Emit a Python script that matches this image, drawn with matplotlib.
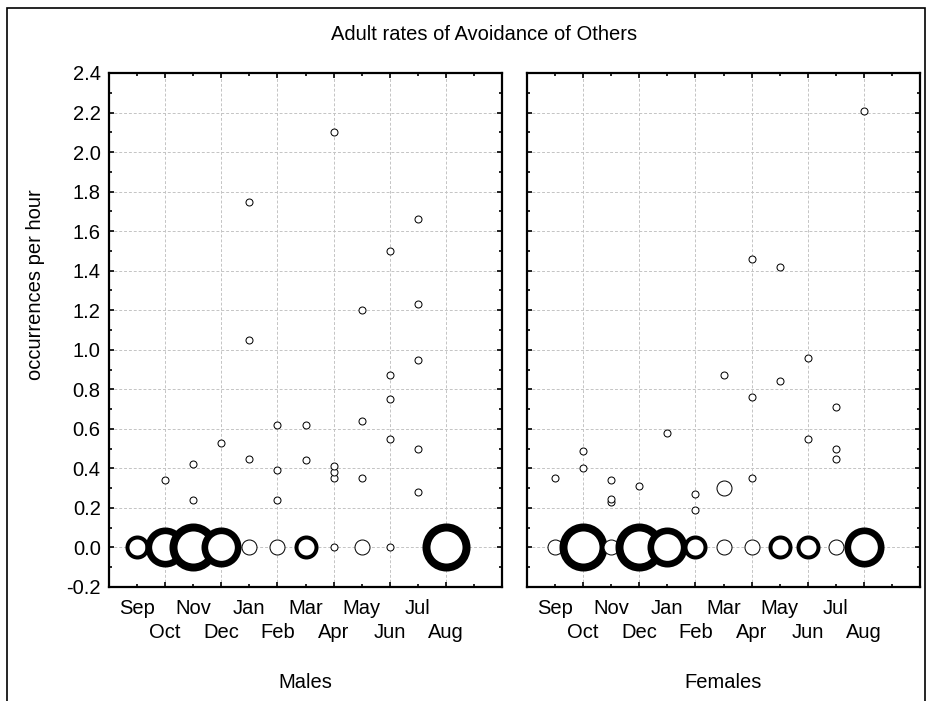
import matplotlib
matplotlib.use('Agg')
import matplotlib.pyplot as plt
from matplotlib.patches import Rectangle
from collections import Counter

plt.rcParams['font.family'] = ['Liberation Sans', 'DejaVu Sans']

months = ['Sep', 'Oct', 'Nov', 'Dec', 'Jan', 'Feb', 'Mar', 'Apr', 'May', 'Jun', 'Jul', 'Aug']

# non-zero rates, month number (Sep=1 .. Aug=12) and value
male_month = [2, 3, 3, 4, 5, 5, 5, 6, 6, 6, 7, 7, 8, 8, 8, 8, 9, 9, 9, 10, 10, 10, 10, 11, 11, 11, 11, 11]
male_rate = [0.34, 0.42, 0.24, 0.53, 1.75, 1.05, 0.45, 0.62, 0.39, 0.24, 0.62, 0.44, 2.10, 0.41, 0.38, 0.35,
             1.20, 0.64, 0.35, 1.50, 0.87, 0.75, 0.55, 1.66, 1.23, 0.95, 0.50, 0.28]
female_month = [1, 2, 2, 3, 3, 3, 4, 5, 6, 6, 7, 7, 7, 8, 8, 8, 9, 9, 10, 10, 11, 11, 11, 12]
female_rate = [0.35, 0.49, 0.40, 0.34, 0.245, 0.232, 0.31, 0.58, 0.27, 0.19, 0.87, 0.30, 0.30, 1.46, 0.76, 0.35,
               1.42, 0.84, 0.96, 0.55, 0.71, 0.50, 0.45, 2.21]

# number of adults with a zero rate in each month
male_zeros = [3, 5, 6, 5, 2, 2, 3, 1, 2, 1, 0, 6]
female_zeros = [2, 6, 2, 6, 5, 3, 2, 2, 3, 3, 2, 5]

PX = 0.72  # points per pixel at 100 dpi
FS = 14.5
W, H = 931, 701


def draw_panel(ax, month, rate, zeros, label):
    obs = list(zip(month, rate))
    for i, n in enumerate(zeros):
        obs += [(i + 1, 0.0)] * n
    counts = Counter(obs)
    for (m, v), n in sorted(counts.items()):
        outer = 8 * n
        lw = 1.0 if n <= 2 else 1.33 * n
        size = (outer - lw) * PX
        ax.scatter([m], [v], s=size ** 2, facecolors='white', edgecolors='black',
                   linewidths=lw * PX, zorder=3, clip_on=False)

    ax.set_xlim(0, 14)
    ax.set_ylim(-0.2, 2.4)
    # even months on the lower row (with grid), odd months on the upper row
    ax.set_xticks(range(2, 13, 2), labels=[months[i - 1] for i in range(2, 13, 2)])
    odd = list(range(1, 14, 2))
    ax.set_xticks(odd, labels=[months[i - 1] if i <= 12 else '' for i in odd], minor=True)
    ax.set_yticks([round(-0.2 + 0.2 * k, 1) for k in range(14)])
    ax.set_yticks([round(-0.1 + 0.2 * k, 1) for k in range(13)], minor=True)
    ax.yaxis.set_major_formatter(matplotlib.ticker.FormatStrFormatter('%.1f'))
    ax.grid(True, which='major', color='#c4c4c4', linestyle=(0, (3, 2)), linewidth=0.7)
    ax.set_axisbelow(True)
    ax.tick_params(which='both', direction='in', top=True, right=True, labelsize=FS,
                   width=1.2, pad=6)
    ax.tick_params(which='major', length=3.5)
    ax.tick_params(which='minor', length=2.5)
    ax.tick_params(axis='x', which='minor', pad=9)
    ax.tick_params(axis='x', which='major', pad=9 + 24 * PX)
    for s in ax.spines.values():
        s.set_linewidth(1.6)
    ax.text(0.5, -(682 - 587) / 514, label, transform=ax.transAxes, ha='center', va='center', fontsize=FS)


fig = plt.figure(figsize=(9.31, 7.01), dpi=100)
ax1 = fig.add_axes([109 / W, 1 - 587 / H, 393 / W, 514 / H])
ax2 = fig.add_axes([527 / W, 1 - 587 / H, 393 / W, 514 / H])

draw_panel(ax1, male_month, male_rate, male_zeros, 'Males')
draw_panel(ax2, female_month, female_rate, female_zeros, 'Females')
ax2.set_yticklabels([])

ax1.set_ylabel('occurrences per hour', fontsize=FS, va='center')
ax1.yaxis.set_label_coords((36 - 109) / 393, (587 - 285) / 514)
fig.text(0.52, 1 - 34 / H, 'Adult rates of Avoidance of Others', ha='center', va='center', fontsize=FS)

fig.patches.append(Rectangle((7 / W, -0.01), 918 / W, 1 - 8 / H + 0.01, transform=fig.transFigure,
                             fill=False, edgecolor='black', linewidth=1.2))

fig.savefig('out.png', dpi=100)
